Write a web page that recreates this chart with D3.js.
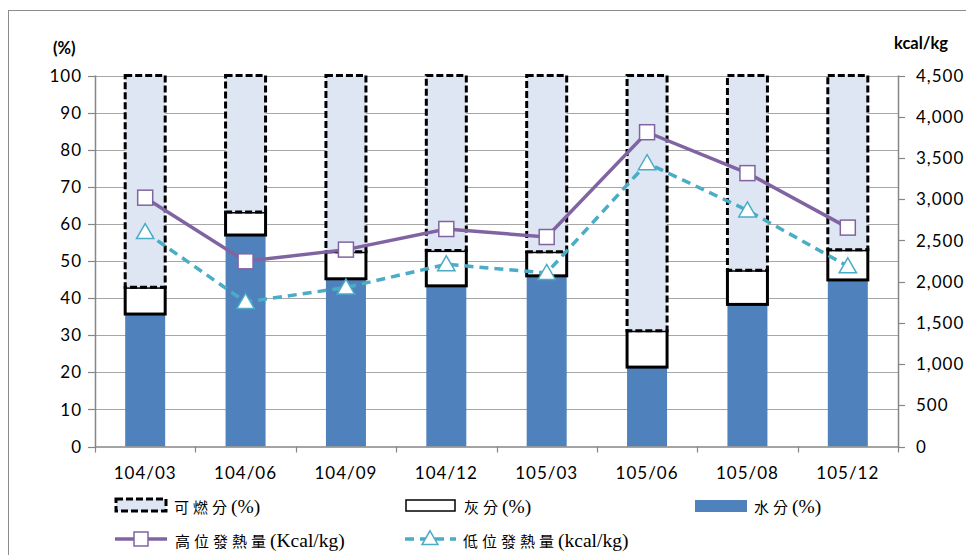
<!DOCTYPE html>
<html>
<head>
<meta charset="utf-8">
<script src="https://cdn.jsdelivr.net/npm/d3@7/dist/d3.min.js"></script>
<style>
  html, body { margin: 0; padding: 0; background: #fff; }
  svg { display: block; }
  .tick-label { font-family: Lato, "Open Sans", sans-serif; font-size: 17px; letter-spacing: 1px; fill: #000; }
  .unit { font-family: Lato, "Open Sans", sans-serif; font-size: 16.5px; font-weight: bold; fill: #000; }
  .legend { font-family: "Liberation Serif", "Noto Sans CJK TC", serif; font-size: 19.5px; fill: #000; }
  .legend .cjk { font-family: "Noto Sans CJK TC", serif; font-size: 15px; letter-spacing: 4px; }
</style>
</head>
<body>
<svg id="chart" width="966" height="555"></svg>
<script>
// Sampling periods
const periods = ["104/03", "104/06", "104/09", "104/12", "105/03", "105/06", "105/08", "105/12"];
// Moisture share (%)
const water = [35.7, 57.0, 45.2, 43.3, 46.0, 21.4, 38.3, 44.9];
// Ash share (%)
const ash = [7.2, 6.2, 7.3, 9.5, 6.5, 9.8, 9.2, 8.1];
// Combustible share (%) = remainder up to 100
const combustible = water.map((w, i) => +(100 - w - ash[i]).toFixed(1));
// Higher heating value (kcal/kg)
const hhv = [3018, 2246, 2388, 2638, 2541, 3812, 3316, 2655];
// Lower heating value (kcal/kg)
const lhv = [2601, 1753, 1928, 2210, 2105, 3437, 2864, 2186];
// Axis ticks
const pctTicks = [0, 10, 20, 30, 40, 50, 60, 70, 80, 90, 100];
const kcalTicks = [0, 500, 1000, 1500, 2000, 2500, 3000, 3500, 4000, 4500];

const svg = d3.select("#chart");
const plot = { left: 95, right: 898, top: 75.5, bottom: 446.5 };

const colors = {
  water: "#4F81BD",
  comb: "#DFE6F3",
  hhv: "#8064A2",
  lhv: "#4BACC6",
  grid: "#A6A6A6",
  axis: "#868686"
};

// Outer chart-area frame
svg.append("rect")
  .attr("x", 8.5).attr("y", 10.5)
  .attr("width", 980).attr("height", 580)
  .attr("fill", "none").attr("stroke", "#8c8c8c").attr("stroke-width", 1);

const x = d3.scaleBand().domain(periods).range([plot.left, plot.right]).paddingInner(0).paddingOuter(0);
const yL = d3.scaleLinear().domain([0, 100]).range([plot.bottom, plot.top]);
const yR = d3.scaleLinear().domain([0, 4500]).range([plot.bottom, plot.top]);
const barW = 40;

// Horizontal gridlines
svg.append("g").selectAll("line").data(pctTicks.filter(d => d > 0)).join("line")
  .attr("x1", plot.left).attr("x2", plot.right)
  .attr("y1", d => Math.round(yL(d)) + 0.5).attr("y2", d => Math.round(yL(d)) + 0.5)
  .attr("stroke", colors.grid).attr("stroke-width", 1.2);

// Stacked columns
const rows = periods.map((p, i) => ({ p, w: water[i], a: ash[i], c: combustible[i] }));
const bars = svg.append("g");
rows.forEach(r => {
  const cx = x(r.p) + x.bandwidth() / 2;
  const x0 = cx - barW / 2;
  bars.append("rect")
    .attr("x", x0).attr("width", barW)
    .attr("y", yL(r.w)).attr("height", yL(0) - yL(r.w))
    .attr("fill", colors.water);
  bars.append("rect")
    .attr("x", x0).attr("width", barW)
    .attr("y", yL(r.w + r.a)).attr("height", yL(r.w) - yL(r.w + r.a))
    .attr("fill", "#fff").attr("stroke", "#000").attr("stroke-width", 3);
  bars.append("rect")
    .attr("x", x0).attr("width", barW)
    .attr("y", yL(r.w + r.a + r.c)).attr("height", yL(r.w + r.a) - yL(r.w + r.a + r.c))
    .attr("fill", colors.comb).attr("stroke", "#000").attr("stroke-width", 3)
    .attr("stroke-dasharray", "7,3");
});

// Axes
const axisG = svg.append("g");
axisG.append("line").attr("x1", plot.left + 0.5).attr("x2", plot.left + 0.5)
  .attr("y1", plot.top).attr("y2", plot.bottom + 0.5).attr("stroke", colors.axis).attr("stroke-width", 1.5);
axisG.append("line").attr("x1", plot.right + 0.5).attr("x2", plot.right + 0.5)
  .attr("y1", plot.top).attr("y2", plot.bottom + 0.5).attr("stroke", colors.axis).attr("stroke-width", 1.5);
axisG.append("line").attr("x1", plot.left).attr("x2", plot.right + 1)
  .attr("y1", plot.bottom + 0.5).attr("y2", plot.bottom + 0.5).attr("stroke", colors.axis).attr("stroke-width", 1.5);

// Left ticks and labels
axisG.selectAll(".lt").data(pctTicks).join("line")
  .attr("x1", plot.left - 7).attr("x2", plot.left)
  .attr("y1", d => Math.round(yL(d)) + 0.5).attr("y2", d => Math.round(yL(d)) + 0.5)
  .attr("stroke", colors.axis).attr("stroke-width", 1.2);
axisG.selectAll(".ll").data(pctTicks).join("text")
  .attr("class", "tick-label")
  .attr("x", 82).attr("y", d => yL(d)).attr("dy", "0.36em")
  .attr("text-anchor", "end")
  .text(d => d);

// Right ticks and labels
const fmt = d3.format(",");
axisG.selectAll(".rt").data(kcalTicks).join("line")
  .attr("x1", plot.right).attr("x2", plot.right + 7)
  .attr("y1", d => Math.round(yR(d)) + 0.5).attr("y2", d => Math.round(yR(d)) + 0.5)
  .attr("stroke", colors.axis).attr("stroke-width", 1.2);
axisG.selectAll(".rl").data(kcalTicks).join("text")
  .attr("class", "tick-label")
  .attr("x", 916).attr("y", d => yR(d)).attr("dy", "0.36em")
  .attr("text-anchor", "start")
  .text(d => fmt(d));

// Category ticks and labels
const edges = periods.map(p => x(p)).concat([plot.right]);
axisG.selectAll(".bt").data(edges).join("line")
  .attr("x1", d => Math.round(d) + 0.5).attr("x2", d => Math.round(d) + 0.5)
  .attr("y1", plot.bottom).attr("y2", plot.bottom + 6)
  .attr("stroke", colors.axis).attr("stroke-width", 1.2);
axisG.selectAll(".bl").data(periods).join("text")
  .attr("class", "tick-label")
  .attr("x", d => x(d) + x.bandwidth() / 2).attr("y", 473).attr("dy", "0.36em")
  .attr("text-anchor", "middle")
  .text(d => d);

// Axis unit titles
svg.append("text").attr("class", "unit").attr("x", 53).attr("y", 48).attr("dy", "0.36em").text("(%)");
svg.append("text").attr("class", "unit").attr("x", 894).attr("y", 43).attr("dy", "0.36em").text("kcal/kg");

// Heating value lines
const cxOf = i => x(periods[i]) + x.bandwidth() / 2;
const lineH = d3.line().x((d, i) => cxOf(i)).y(d => yR(d));
svg.append("path").datum(hhv).attr("d", lineH)
  .attr("fill", "none").attr("stroke", colors.hhv).attr("stroke-width", 3.5);
svg.append("path").datum(lhv).attr("d", lineH)
  .attr("fill", "none").attr("stroke", colors.lhv).attr("stroke-width", 3.5)
  .attr("stroke-dasharray", "9,6");

const sq = 15;
svg.append("g").selectAll("rect").data(hhv).join("rect")
  .attr("x", (d, i) => cxOf(i) - sq / 2).attr("y", d => yR(d) - sq / 2)
  .attr("width", sq).attr("height", sq)
  .attr("fill", "#fff").attr("stroke", colors.hhv).attr("stroke-width", 1.5);

const tri = d3.symbol().type(d3.symbolTriangle).size(130);
svg.append("g").selectAll("path").data(lhv).join("path")
  .attr("transform", (d, i) => `translate(${cxOf(i)},${yR(d) + 1.5})`)
  .attr("d", tri)
  .attr("fill", "#fff").attr("stroke", colors.lhv).attr("stroke-width", 1.5);

// Legend
const lg = svg.append("g");
function legendText(xPos, yPos, cjk, latin) {
  const t = lg.append("text").attr("class", "legend").attr("x", xPos).attr("y", yPos).attr("dy", "0.34em");
  t.append("tspan").attr("class", "cjk").text(cjk);
  t.append("tspan").text(latin);
}

lg.append("rect").attr("x", 116).attr("y", 499).attr("width", 50).attr("height", 12)
  .attr("fill", colors.comb).attr("stroke", "#000").attr("stroke-width", 3).attr("stroke-dasharray", "7,3");
legendText(174, 506, "可燃分", "(%)");

lg.append("rect").attr("x", 406).attr("y", 500).attr("width", 49).attr("height", 11)
  .attr("fill", "#fff").attr("stroke", "#000").attr("stroke-width", 1.5);
legendText(464, 506, "灰分", "(%)");

lg.append("rect").attr("x", 695).attr("y", 500).attr("width", 52).attr("height", 12)
  .attr("fill", colors.water);
legendText(754, 506, "水分", "(%)");

lg.append("line").attr("x1", 115).attr("x2", 167).attr("y1", 539).attr("y2", 539)
  .attr("stroke", colors.hhv).attr("stroke-width", 3.5);
lg.append("rect").attr("x", 141 - 7).attr("y", 539 - 7).attr("width", 14).attr("height", 14)
  .attr("fill", "#fff").attr("stroke", colors.hhv).attr("stroke-width", 1.5);
legendText(175, 540, "高位發熱量", "(Kcal/kg)");

lg.append("line").attr("x1", 405).attr("x2", 456).attr("y1", 539).attr("y2", 539)
  .attr("stroke", colors.lhv).attr("stroke-width", 3.5).attr("stroke-dasharray", "9,6");
lg.append("path").attr("transform", "translate(430,540)").attr("d", d3.symbol().type(d3.symbolTriangle).size(110))
  .attr("fill", "#fff").attr("stroke", colors.lhv).attr("stroke-width", 1.5);
legendText(463, 540, "低位發熱量", "(kcal/kg)");
</script>
</body>
</html>
